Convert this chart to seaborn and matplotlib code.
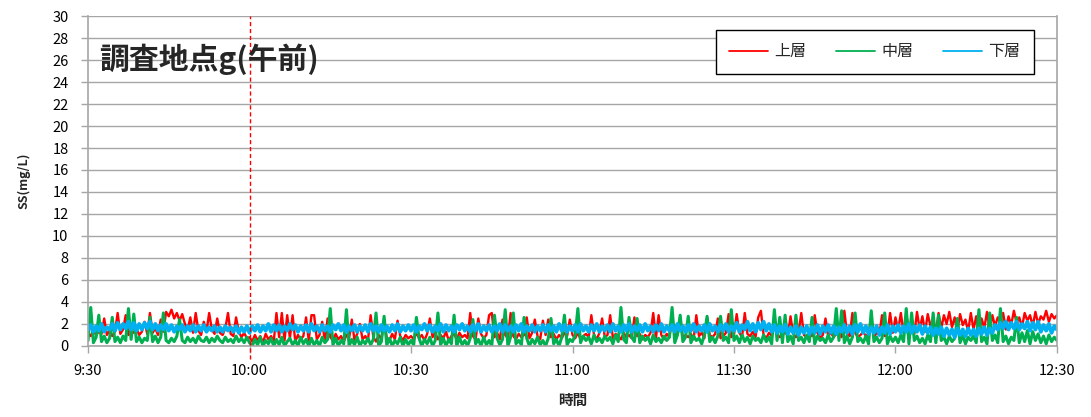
import numpy as np
import pandas as pd
import matplotlib
matplotlib.use("Agg")
import matplotlib.pyplot as plt
import matplotlib.dates as mdates
from matplotlib.lines import Line2D
import seaborn as sns

# SS readings every 30 s from 9:30 to 12:30 (mg/L)
upper = [
    1.2,0.9,1.4,1.0,1.3,1.1,2.5,1.0,1.4,0.9,
    1.3,3.0,1.1,1.5,2.8,1.0,1.4,1.2,1.6,1.0,
    1.3,2.2,1.1,3.0,1.2,1.6,1.0,2.4,1.3,3.1,
    2.7,3.3,2.5,3.0,2.3,2.9,2.0,1.5,2.6,1.2,
    3.0,1.4,1.0,2.2,1.3,3.0,1.5,1.1,2.5,1.2,
    1.0,1.6,3.0,1.1,0.9,2.6,1.3,0.8,1.2,0.7,
    0.8,0.4,1.0,0.5,0.9,0.3,1.1,0.6,0.9,0.4,
    3.0,0.8,3.0,0.5,2.8,0.7,2.8,0.4,1.0,0.6,
    0.9,2.6,0.5,2.8,2.8,0.6,1.0,2.2,0.4,2.5,
    0.8,0.5,1.1,0.6,0.9,0.4,1.0,0.7,2.4,0.5,
    1.1,2.0,0.6,0.9,0.5,2.8,0.8,0.4,1.0,0.6,
    2.4,0.7,0.5,1.1,0.6,2.3,0.9,0.5,1.0,0.7,
    0.9,0.6,1.2,0.7,1.0,0.5,1.1,2.5,0.8,1.2,
    0.6,1.0,0.7,1.3,0.5,0.9,1.1,0.6,1.2,0.8,
    1.0,0.7,3.0,0.9,0.6,2.5,1.1,0.7,1.0,2.8,
    3.0,0.8,1.2,0.6,2.4,1.0,0.7,3.0,0.9,0.6,
    1.1,0.8,1.0,2.6,0.7,1.2,2.4,0.9,0.6,2.3,
    1.0,2.4,0.8,1.1,0.6,1.0,0.7,1.2,0.9,2.4,
    1.0,0.7,1.2,0.6,0.9,1.1,0.8,2.8,1.0,0.6,
    1.2,2.5,0.8,1.0,2.8,0.7,1.1,0.9,0.6,1.2,
    0.8,1.0,0.7,2.6,0.9,1.1,0.6,1.0,0.8,1.2,
    3.0,0.7,2.8,1.0,0.6,1.1,0.8,2.4,0.9,1.2,
    2.6,0.7,1.0,0.8,1.1,0.6,2.8,0.9,1.2,0.7,
    2.6,1.0,0.8,1.1,2.5,0.7,0.9,1.2,2.9,0.8,
    1.0,2.9,1.2,0.8,3.0,1.1,0.9,1.3,0.8,2.6,
    3.2,1.0,0.7,1.2,0.9,2.4,1.1,0.8,1.0,1.3,
    0.9,2.7,1.1,0.8,1.2,3.0,1.0,0.8,1.1,0.9,
    2.8,1.2,0.7,1.0,2.5,0.9,1.2,0.8,1.1,1.0,
    0.8,3.2,1.1,0.9,3.0,1.2,0.8,1.0,1.3,0.9,
    1.1,2.5,0.8,1.2,1.0,2.8,0.9,1.1,3.0,1.2,
    2.6,1.4,3.0,1.2,2.8,1.6,2.4,1.1,3.1,1.5,
    2.7,1.3,2.9,1.8,2.5,1.2,3.0,1.6,2.8,2.0,
    3.1,1.7,2.6,1.4,2.9,1.9,2.4,1.3,3.0,1.5,
    2.7,1.2,2.5,1.6,3.1,1.4,2.8,1.8,2.6,2.2,
    3.0,1.5,2.7,1.9,3.2,2.1,2.6,1.7,3.0,2.3,
    2.8,1.8,3.1,2.0,2.7,2.4,3.2,2.2,2.9,2.5,
    2.8,
]

middle = [
    0.5,3.5,0.3,0.8,2.8,0.4,0.9,0.3,0.7,2.6,
    0.4,0.8,0.3,0.9,0.5,3.4,0.6,2.9,0.4,0.8,
    0.3,0.7,0.5,2.6,0.4,0.9,0.3,0.8,3.0,0.5,
    0.3,0.7,0.4,0.9,2.4,0.5,0.3,0.8,0.4,0.7,
    0.3,0.9,0.5,0.4,0.8,0.3,0.7,0.4,0.9,0.5,
    0.3,0.8,0.4,0.6,0.3,0.9,0.4,0.7,0.3,0.8,
    0.3,0.0,0.6,0.1,0.8,0.0,0.5,0.2,0.7,0.0,
    0.6,0.1,0.8,0.0,0.4,0.7,0.1,0.5,0.0,0.8,
    0.2,0.6,0.0,0.7,0.1,0.5,0.0,0.8,0.3,0.6,
    3.4,0.1,0.7,0.0,0.5,0.2,3.3,0.0,0.6,0.1,
    0.8,0.0,0.5,0.2,0.7,0.1,0.6,3.0,0.0,0.4,
    2.7,0.1,0.7,0.0,0.5,0.2,0.8,0.0,0.6,0.1,
    0.5,0.1,2.6,0.7,0.0,0.6,0.2,0.8,0.0,0.5,
    3.0,0.1,0.7,0.0,0.6,0.2,2.8,0.0,0.8,0.1,
    0.5,0.0,0.7,2.4,0.2,0.6,0.0,0.8,0.1,0.5,
    0.0,2.8,0.7,0.1,0.6,3.3,0.0,0.8,3.0,0.2,
    0.5,0.1,2.6,0.7,0.0,0.6,0.2,0.8,0.1,0.5,
    0.0,0.7,2.5,0.2,0.6,0.0,0.8,2.8,0.1,0.6,
    0.4,1.0,3.4,0.3,0.9,0.5,0.8,0.2,1.0,0.4,
    0.7,0.3,0.9,0.5,0.8,0.2,1.0,0.4,3.5,0.6,
    0.3,2.6,0.8,0.4,2.5,0.3,0.9,0.5,0.8,0.2,
    1.0,0.4,0.7,0.3,0.9,0.5,0.8,3.5,0.3,1.0,
    2.8,0.4,0.8,2.7,0.3,0.9,0.5,0.7,0.2,1.0,
    2.7,0.4,0.8,0.3,0.9,2.7,0.5,0.8,0.3,3.3,
    0.5,0.9,0.3,1.0,0.4,0.8,0.2,0.9,0.5,0.7,
    0.3,1.0,0.4,0.8,0.2,3.3,0.5,2.6,0.3,2.8,
    0.4,0.9,0.2,2.8,0.5,0.8,0.3,1.0,0.4,2.6,
    0.2,0.9,0.5,0.7,0.3,1.0,0.4,0.8,3.4,0.5,
    3.2,0.3,0.9,0.2,0.8,3.0,0.4,0.7,0.3,0.9,
    0.2,3.2,0.4,0.8,0.3,0.7,3.0,0.2,0.9,0.4,
    0.8,0.3,1.0,0.4,3.4,0.2,3.0,0.5,0.9,0.3,
    0.7,0.2,1.0,0.4,3.0,0.3,2.8,0.5,0.8,0.2,
    0.9,0.4,0.7,2.5,0.3,1.0,0.2,0.8,0.5,0.9,
    0.3,3.3,0.4,0.8,0.2,3.0,0.5,1.0,0.3,3.4,
    0.4,0.9,0.2,0.8,0.5,2.6,0.3,1.2,0.4,1.4,
    0.2,1.3,0.5,1.1,0.3,0.9,0.2,1.0,0.4,0.8,
    0.5,
]

lower = [
    1.5,1.9,1.3,1.8,1.4,2.0,1.3,1.7,1.5,2.0,
    1.4,2.1,1.5,2.0,1.6,2.2,1.5,2.1,1.4,2.0,
    1.5,2.1,1.6,2.2,1.5,2.0,1.4,1.9,1.5,2.0,
    1.4,1.9,1.3,1.8,1.5,1.9,1.3,1.8,1.4,1.9,
    1.3,1.8,1.4,1.9,1.3,1.7,1.4,1.8,1.3,1.7,
    1.3,1.8,1.4,1.7,1.3,1.8,1.2,1.7,1.3,1.8,
    1.2,1.8,1.4,1.9,1.3,1.8,1.4,2.0,1.3,1.9,
    1.4,1.9,1.3,1.8,1.4,2.0,1.5,1.9,1.3,1.8,
    1.4,1.9,1.3,2.0,1.4,1.8,1.3,1.9,1.4,1.8,
    1.3,1.9,1.5,2.0,1.4,1.9,1.3,1.8,1.4,1.9,
    1.3,1.8,1.4,1.9,1.3,2.0,1.4,1.8,1.3,1.9,
    1.4,1.8,1.3,1.9,1.4,2.0,1.3,1.8,1.4,1.9,
    1.4,1.9,1.3,1.8,1.5,2.0,1.4,1.9,1.3,1.8,
    1.4,2.0,1.3,1.9,1.4,1.8,1.3,1.9,1.5,2.0,
    1.4,1.8,1.3,1.9,1.4,2.0,1.3,1.8,1.4,1.9,
    1.3,1.8,1.4,2.0,1.3,1.9,1.4,1.8,1.3,1.9,
    1.4,2.0,1.3,1.8,1.4,1.9,1.3,1.8,1.4,1.9,
    1.3,1.9,1.4,1.8,1.3,2.0,1.4,1.9,1.3,1.8,
    1.4,1.9,1.3,2.0,1.4,1.8,1.3,1.9,1.4,2.0,
    1.3,1.8,1.4,1.9,1.3,2.0,1.4,1.8,1.3,1.9,
    1.4,2.0,1.3,1.8,1.4,1.9,1.3,2.0,1.4,1.8,
    1.3,1.9,1.4,2.0,1.3,1.8,1.4,1.9,1.3,2.0,
    1.4,1.8,1.3,1.9,1.4,2.0,1.3,1.8,1.4,1.9,
    1.3,2.0,1.4,1.8,1.3,1.9,1.4,2.0,1.3,1.8,
    1.4,2.1,1.3,1.9,1.5,2.2,1.4,2.0,1.3,2.1,
    1.5,2.2,1.4,2.0,1.3,1.9,1.2,1.8,1.3,1.9,
    1.1,1.7,1.2,1.8,1.0,1.7,1.2,1.8,1.1,1.7,
    1.2,1.9,1.1,1.8,1.3,1.9,1.2,1.8,1.1,1.7,
    1.3,1.9,1.2,1.8,1.1,1.9,1.3,2.0,1.2,1.8,
    1.1,1.7,1.2,1.8,1.0,1.7,1.2,1.9,1.1,1.8,
    1.3,1.9,1.2,1.8,1.3,2.0,1.2,1.8,1.3,1.9,
    1.1,1.8,1.2,1.7,1.0,1.6,1.1,1.7,0.9,1.6,
    1.0,1.5,0.8,1.6,1.0,1.5,0.9,1.6,1.0,1.5,
    0.9,1.6,1.1,1.7,1.0,1.6,1.2,1.9,1.5,2.1,
    1.6,2.2,1.5,2.1,1.6,2.2,1.5,2.0,1.6,2.2,
    1.4,2.1,1.5,2.2,1.3,1.9,1.4,2.0,1.2,1.8,
    1.5,
]

series_names = ["上層", "中層", "下層"]
series_colors = ["#FF0000", "#00B050", "#00B0F0"]
series_widths = [1.7, 2.2, 2.8]

start_time = "2020-01-01 09:30"
end_time = "2020-01-01 12:30"
marker_time = "2020-01-01 10:00"
title_text = "調査地点g(午前)"
y_ticks = list(range(0, 31, 2))

times = pd.date_range(start_time, periods=len(lower), freq="30s")
df = pd.DataFrame({"時間": times, "上層": upper, "中層": middle, "下層": lower})
long_df = df.melt(id_vars="時間", var_name="層", value_name="SS")

sns.set_theme(style="white")
plt.rcParams["font.family"] = ["Noto Sans CJK JP", "DejaVu Sans"]

fig = plt.figure(figsize=(10.91, 4.17), dpi=100)
ax = fig.add_axes([0.0807, 0.1703, 0.8881, 0.7913])

for name, color, lw in zip(series_names, series_colors, series_widths):
    sns.lineplot(data=long_df[long_df["層"] == name], x="時間", y="SS",
                 color=color, linewidth=lw, estimator=None, sort=False,
                 ax=ax, legend=False)

ax.set_xlim(pd.Timestamp(start_time), pd.Timestamp(end_time))
ax.set_ylim(0, 30)
ax.set_yticks(y_ticks)
ax.yaxis.grid(True, color="#A6A6A6", linewidth=1.0)
ax.xaxis.grid(False)
ax.set_axisbelow(True)

ax.xaxis.set_major_locator(mdates.MinuteLocator(byminute=[0, 30]))
ax.xaxis.set_major_formatter(mdates.DateFormatter("%-H:%M"))

for side in ["left", "bottom", "right"]:
    ax.spines[side].set_color("#A6A6A6")
    ax.spines[side].set_linewidth(1.2)
ax.spines["top"].set_visible(False)

ax.tick_params(axis="both", which="major", direction="out", length=5,
               width=1, color="#A6A6A6", labelsize=10.5, labelcolor="black")
ax.tick_params(axis="x", pad=8, bottom=True)
ax.tick_params(axis="y", pad=9, left=True)

ax.set_xlabel("時間", fontsize=10.5, fontweight="bold", labelpad=10)
ax.set_ylabel("SS(mg/L)", fontsize=9, fontweight="bold", labelpad=16)

# reference line at 10:00
ax.axvline(pd.Timestamp(marker_time), ymin=-0.038, ymax=1.0, color="#FF0000",
           linestyle=(0, (3, 2)), linewidth=1.0, clip_on=False, zorder=5)

ax.text(0.011, 0.868, title_text, transform=ax.transAxes, fontsize=21.5,
        fontweight="bold", va="center", ha="left", zorder=6)

handles = [Line2D([0], [0], color=c, linewidth=1.3) for c in series_colors]
leg = ax.legend(handles, series_names, loc="upper right", ncol=3,
                bbox_to_anchor=(0.976, 0.958), fontsize=11.5, frameon=True,
                fancybox=False, framealpha=1.0, edgecolor="black",
                handlelength=2.4, columnspacing=1.9, handletextpad=0.4,
                borderpad=0.85, borderaxespad=0)
leg.get_frame().set_linewidth(1.0)
leg.set_zorder(7)

fig.savefig("out.png", dpi=100)
